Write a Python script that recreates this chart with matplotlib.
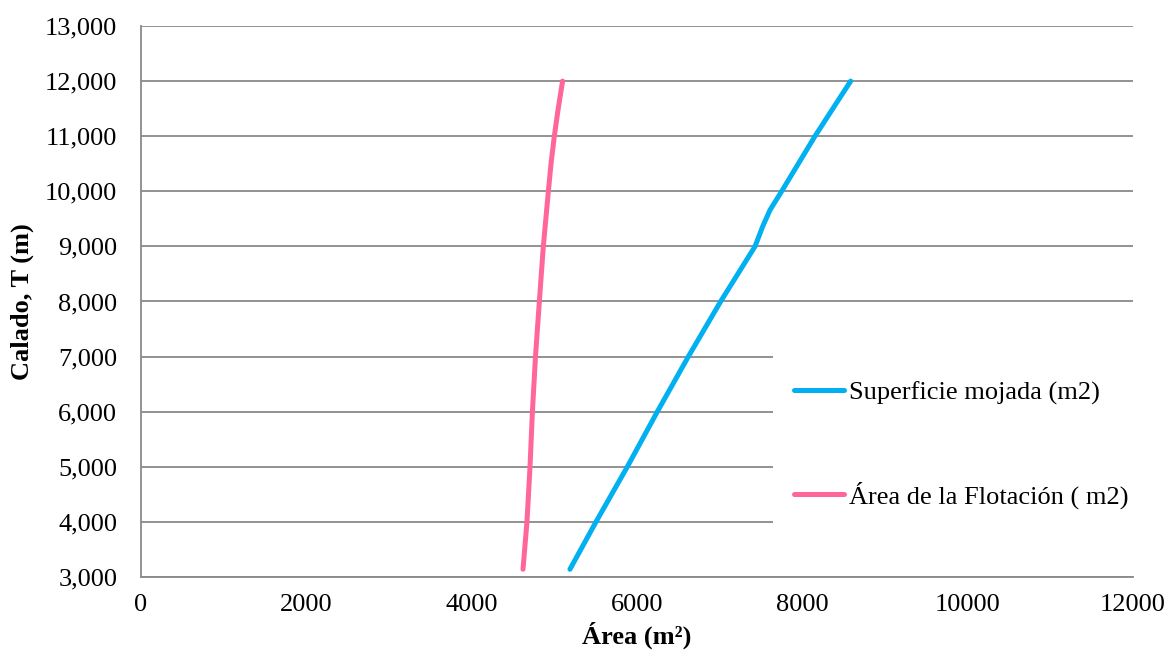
import matplotlib
matplotlib.use("Agg")
import matplotlib.pyplot as plt
from matplotlib.ticker import FuncFormatter, MultipleLocator
from matplotlib.patches import Rectangle

# Data
calado_sup = [3140, 4000, 5000, 6000, 7000, 8000, 9000, 9360, 9660, 10000, 11000, 12000]
superficie_mojada = [5189, 5504, 5883, 6246, 6621, 7012, 7428, 7520, 7609, 7750, 8153, 8585]

calado_flot = [3140, 4000, 5000, 6000, 7000, 8000, 9000, 10000, 10500, 11000, 11500, 12000]
area_flotacion = [4621, 4669, 4706, 4735, 4772, 4819, 4867, 4928, 4960, 5000, 5047, 5100]

label_sup = "Superficie mojada (m2)"
label_flot = "Área de la Flotación ( m2)"
xlabel = "Área (m²)"
ylabel = "Calado, T (m)"

plt.rcParams['font.family'] = ['Liberation Serif', 'DejaVu Serif']

fig = plt.figure(figsize=(11.69, 6.61), dpi=100)
ax = fig.add_axes([0.1206, 0.1271, 0.9692 - 0.1206, 0.9607 - 0.1271])

blue = '#00B0F0'
pink = '#FF6699'
ax.plot(superficie_mojada, calado_sup, color=blue, lw=3.6, solid_capstyle='round',
        solid_joinstyle='round', label=label_sup, zorder=4)
ax.plot(area_flotacion, calado_flot, color=pink, lw=3.6, solid_capstyle='round',
        solid_joinstyle='round', label=label_flot, zorder=4)

ax.set_xlim(0, 12000)
ax.set_ylim(3000, 13000)
ax.xaxis.set_major_locator(MultipleLocator(2000))
ax.yaxis.set_major_locator(MultipleLocator(1000))
ax.yaxis.set_major_formatter(FuncFormatter(lambda v, p: f"{v:,.0f}"))
ax.xaxis.set_major_formatter(FuncFormatter(lambda v, p: f"{v:.0f}"))

ax.grid(axis='y', color='#898989', lw=1.3, zorder=1)
ax.set_axisbelow(True)
for s in ['top', 'right']:
    ax.spines[s].set_visible(False)
for s in ['left', 'bottom']:
    ax.spines[s].set_color('#898989')
    ax.spines[s].set_linewidth(1.3)
    ax.spines[s].set_zorder(3)

ax.tick_params(axis='both', length=0, labelsize=19, colors='black')
ax.tick_params(axis='y', pad=17)
ax.tick_params(axis='x', pad=12)

ax.set_xlabel(xlabel, fontsize=19, fontweight='bold', labelpad=4)
ax.set_ylabel(ylabel, fontsize=19, fontweight='bold', labelpad=8)

# white legend background covering gridlines
ax.add_patch(Rectangle((0.637, 0.004), 0.37, 0.41, transform=ax.transAxes,
                       facecolor='white', edgecolor='none', zorder=2, clip_on=False))

leg = ax.legend(loc='center left', bbox_to_anchor=(0.658, 0.2395), frameon=False,
                fontsize=19, handlelength=1.9, handletextpad=0.18, labelspacing=2.89,
                borderpad=0, borderaxespad=0)
leg.set_zorder(5)

fig.savefig('out.png', dpi=100)
